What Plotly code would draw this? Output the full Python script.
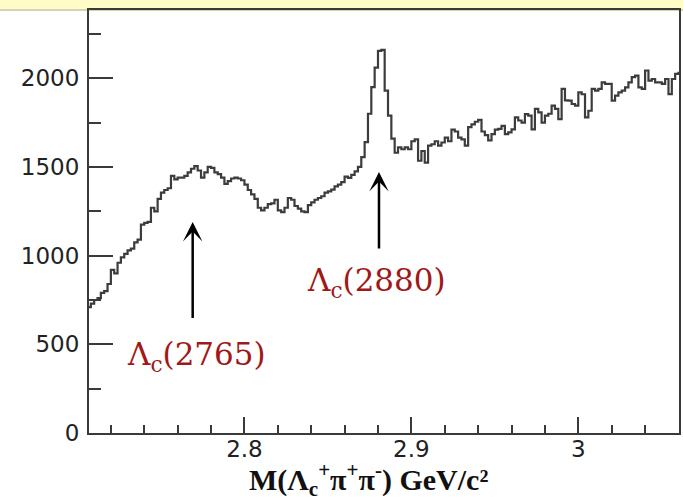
import plotly.graph_objects as go

# Invariant-mass histogram: 2 MeV bins starting at 2.706 GeV/c^2
BIN_START = 2.706
BIN_WIDTH = 0.002
counts = [
    710, 730, 750, 760, 790, 800, 840, 920, 900, 960,
    990, 1010, 1030, 1040, 1075, 1090, 1175, 1185, 1190, 1270,
    1250, 1320, 1355, 1370, 1380, 1450, 1430, 1440, 1440, 1450,
    1470, 1490, 1505, 1480, 1440, 1470, 1500, 1495, 1470, 1460,
    1440, 1405, 1420, 1435, 1440, 1435, 1425, 1400, 1370, 1345,
    1320, 1270, 1255, 1270, 1290, 1295, 1315, 1255, 1245, 1270,
    1325, 1315, 1280, 1265, 1250, 1245, 1285, 1300, 1315, 1325,
    1335, 1355, 1362, 1372, 1390, 1400, 1415, 1445, 1438, 1455,
    1475, 1500, 1555, 1640, 1800, 1950, 2060, 2155, 2160, 1930,
    1790, 1660, 1580, 1610, 1600, 1610, 1600, 1645, 1655, 1535,
    1590, 1525, 1620, 1628, 1645, 1620, 1638, 1665, 1645, 1710,
    1700, 1665, 1655, 1620, 1725, 1740, 1755, 1765, 1700, 1680,
    1650, 1685, 1710, 1715, 1732, 1685, 1695, 1712, 1780, 1762,
    1750, 1798, 1790, 1712, 1828, 1808, 1750, 1790, 1800, 1846,
    1828, 1770, 1940, 1875, 1874, 1855, 1846, 1920, 1910, 1780,
    1817, 1940, 1930, 1940, 1977, 1968, 1968, 1874, 1902, 1921,
    1930, 1949, 1977, 2006, 2015, 1949, 1940, 2044, 1987, 1996,
    1977, 1977, 1968, 1996, 1911, 1996, 2025, 2030,
]

x_ticks = [2.8, 2.9, 3.0]
x_tick_labels = ["2.8", "2.9", "3"]
y_ticks = [0, 500, 1000, 1500, 2000]
y_tick_labels = ["0", "500", "1000", "1500", "2000"]

# resonance labels: (text, arrow x, arrow tip y, arrow tail y, label x, label y)
peaks = [
    ("Λ<sub>c</sub>(2765)", 2.7690, 1190, 640, 2.7713, 430),
    ("Λ<sub>c</sub>(2880)", 2.8806, 1472, 1032, 2.8791, 850),
]

x_range = [2.7069, 3.0603]
y_range = [0, 2385]

edges = [BIN_START + BIN_WIDTH * i for i in range(len(counts) + 1)]
step_y = counts + [counts[-1]]

fig = go.Figure()
fig.add_trace(go.Scatter(
    x=edges, y=step_y, mode="lines", line_shape="hv",
    line=dict(color="#3c3c3c", width=2.2),
    hoverinfo="skip", showlegend=False,
))

tick_font = dict(family="DejaVu Sans", size=23, color="#222222")
axis_common = dict(
    showline=True, linecolor="#3a3a3a", linewidth=2, mirror=True,
    showgrid=False, zeroline=False, ticks="inside", tickcolor="#3a3a3a",
    tickwidth=2, tickfont=tick_font,
)

fig.update_xaxes(
    range=x_range, tickvals=x_ticks, ticktext=x_tick_labels,
    ticklen=16, ticklabelstandoff=-6,
    minor=dict(dtick=0.02, tick0=2.8, ticks="inside", ticklen=8,
               tickwidth=2, tickcolor="#3a3a3a", showgrid=False),
    **axis_common,
)
fig.update_yaxes(
    range=y_range, tickvals=y_ticks, ticktext=y_tick_labels,
    ticklen=24, ticklabelstandoff=3,
    minor=dict(dtick=250, tick0=0, ticks="inside", ticklen=12,
               tickwidth=2, tickcolor="#3a3a3a", showgrid=False),
    **axis_common,
)

annotations = []
for text, ax_x, tip_y, tail_y, lx, ly in peaks:
    annotations.append(dict(
        x=ax_x, y=tip_y, ax=ax_x, ay=tail_y, xref="x", yref="y",
        axref="x", ayref="y", text="", showarrow=True,
        arrowhead=3, arrowsize=1.3, arrowwidth=2.5, arrowcolor="#000000",
    ))
    annotations.append(dict(
        x=lx, y=ly, xref="x", yref="y", text=text, showarrow=False,
        font=dict(family="DejaVu Serif", size=31, color="#a01818"),
        xanchor="center", yanchor="middle",
    ))

annotations.append(dict(
    x=2.8746, y=-0.1655, xref="x", yref="paper",
    text="<b>M(Λ<sub>c</sub><sup>+</sup>π<sup>+</sup>π<sup>-</sup>) GeV/c²</b>",
    showarrow=False, xanchor="center", yanchor="bottom",
    font=dict(family="Liberation Serif", size=30, color="#111111"),
))

fig.update_layout(
    width=683, height=503,
    margin=dict(l=89, r=2, t=10, b=70),
    paper_bgcolor="white", plot_bgcolor="white",
    annotations=annotations,
    shapes=[dict(
        type="rect", xref="paper", yref="paper",
        x0=-0.2, x1=1.1, y0=1.0, y1=1.1,
        fillcolor="#fffcc8", line=dict(width=0), layer="below",
    ), dict(
        type="line", xref="paper", yref="paper",
        x0=-0.2, x1=1.1, y0=1.0, y1=1.0,
        line=dict(color="#c9c6a0", width=1.5), layer="below",
    )],
)

fig.write_html("out.html")
